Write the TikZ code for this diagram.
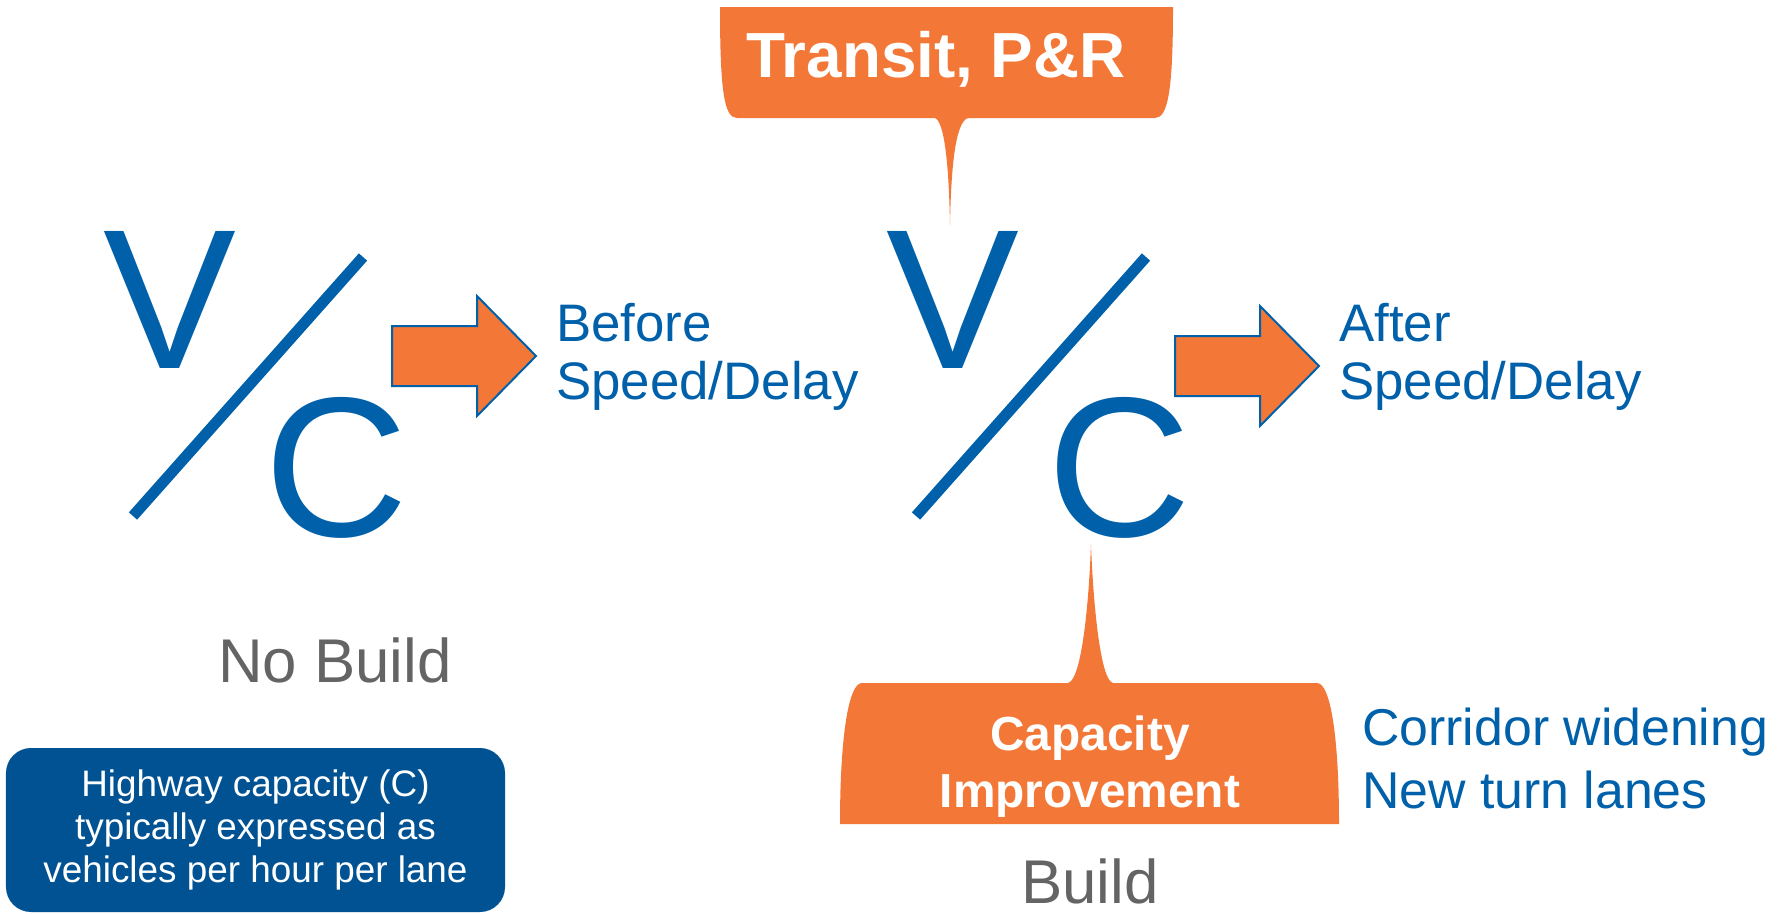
\documentclass[tikz,border=0pt]{standalone}
\usepackage{fontspec}
\setmainfont{Liberation Sans}
\definecolor{vcblue}{RGB}{0,96,170}
\definecolor{boxblue}{RGB}{0,82,147}
\definecolor{calloutorange}{RGB}{243,120,56}
\definecolor{labelgrey}{RGB}{100,100,100}
\tikzset{
  letter/.style={inner sep=0pt, anchor=base, text=vcblue, font=\fontsize{200}{200}\selectfont},
  speedtext/.style={inner sep=0pt, anchor=base west, align=left, text=vcblue, font=\fontsize{53}{58}\selectfont},
  scenario/.style={inner sep=0pt, anchor=base, text=labelgrey, font=\fontsize{62}{62}\selectfont},
  callouttext/.style={inner sep=0pt, anchor=base, align=center, text=white, font=\bfseries\fontsize{48}{57}\selectfont},
  note/.style={fill=boxblue, rounded corners=25bp, minimum width=499bp, minimum height=164bp,
    align=center, text=white, font=\fontsize{37}{43}\selectfont},
}

\begin{document}
\begin{tikzpicture}[x=1bp, y=-1bp]
  \useasboundingbox (0,0) rectangle (1777,913);
  % callouts
  \fill[calloutorange] (720,7) -- (1173,7) .. controls (1173,90) and (1168,118) .. (1155,118)
    -- (968,118) .. controls (955,122) and (951,170) .. (950,225)
    .. controls (949,170) and (945,122) .. (935,118)
    -- (737,118) .. controls (724,118) and (720,90) .. (720,7) -- cycle;
  \node[callouttext, font=\bfseries\fontsize{64}{64}\selectfont] (transit) at (936,77) {Transit, P\&R};
  \fill[calloutorange] (840,824) .. controls (840,740) and (848,683) .. (862,683)
    -- (1068,683) .. controls (1082,680) and (1089,600) .. (1091,544)
    .. controls (1093,600) and (1100,680) .. (1113,683)
    -- (1317,683) .. controls (1331,683) and (1339,740) .. (1339,824) -- cycle;
  \node[callouttext] (capacity) at (1090,807) {Capacity\\Improvement};
  % V/C, arrow, result
  \foreach \dx/\dy/\nm/\txt in {0/0/nb/{Before\\Speed/Delay}, 783/10/bd/{After\\Speed/Delay}} {
    \node[letter] (V\nm) at (170+\dx,368) {V};
    \node[letter] (C\nm) at (336+\dx,536) {C};
    \draw[vcblue, line width=11bp] (363+\dx,257) -- (133+\dx,516);
    \filldraw[fill=calloutorange, draw=vcblue, line width=2bp] (392+\dx,326+\dy) -- ++(85,0) -- ++(0,-30)
      -- ++(59,60) -- ++(-59,60) -- ++(0,-30) -- ++(-85,0) -- cycle;
    \node[speedtext] (sp\nm) at (556+\dx,399) {\txt};
  }
  \node[scenario] (nobuild) at (335,682) {No Build};
  \node[scenario] (build) at (1090,903) {Build};
  \node[speedtext, font=\fontsize{52}{63}\selectfont] (measures) at (1362,808) {Corridor widening\\New turn lanes};
  \node[note] (capnote) at (255.5,830) {Highway capacity (C)\\typically expressed as\\vehicles per hour per lane};
\end{tikzpicture}
\end{document}
